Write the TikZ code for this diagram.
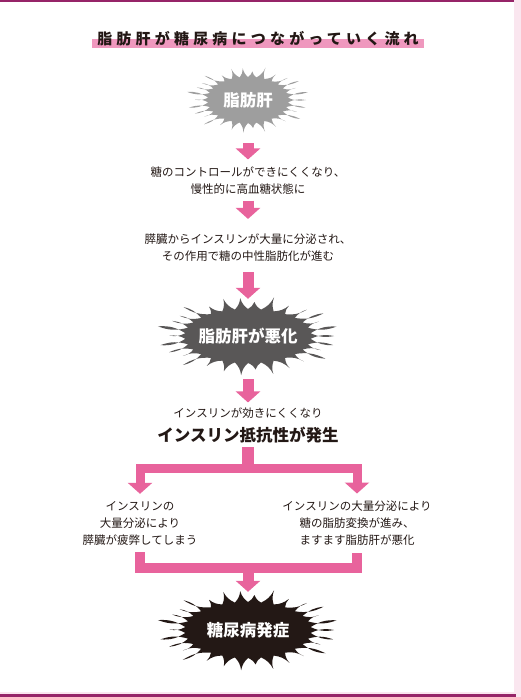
\documentclass[tikz,border=0pt]{standalone}
\usepackage{fontspec}
\newfontfamily\cjk{Noto Sans CJK JP}
\newfontfamily\cjktitle[LetterSpace=28]{Noto Sans CJK JP}
\usetikzlibrary{arrows.meta, positioning}
\definecolor{flowpink}{RGB}{232, 99, 156}
\definecolor{markpink}{RGB}{239, 152, 190}
\definecolor{rulemagenta}{RGB}{150, 36, 104}
\definecolor{edgepink}{RGB}{250, 230, 239}
\definecolor{burstlight}{RGB}{158, 158, 158}
\definecolor{burstdark}{RGB}{89, 87, 87}
\definecolor{burstink}{RGB}{35, 24, 21}
\definecolor{inktext}{RGB}{35, 24, 21}

\begin{document}
\begin{tikzpicture}[x=1pt, y=1pt,
            note/.style={font=\cjk\fontsize{11.5}{17}\selectfont, text=inktext, align=center, inner sep=0pt},
            burstlabel/.style={font=\cjk\bfseries\fontsize{16.5}{18}\selectfont, text=white, inner sep=0pt},
            flow/.style={draw=flowpink, line width=11pt, line join=miter, -{Triangle[length=11pt, width=24pt]}},
            bar/.style={draw=flowpink, line width=10pt, line join=miter},
            pics/burst/.style n args={5}{code={
                \fill[#5] (-6:#3 and #4)
                    \foreach \k in {0,...,29}{
                        to[bend left=18] ({\k*12+2*sin(\k*71)}:{#1*(1+0.09*sin(\k*137))} and {#2*(1+0.09*sin(\k*137))})
                        to[bend left=18] ({\k*12+6}:#3 and #4)
                    } -- cycle;
            }}
        ]
            \useasboundingbox (0,0) rectangle (521,-697);
            \fill[edgepink] (514,0) rectangle (521,-697);
            \fill[rulemagenta] (0,0) rectangle (514,-2);
            \fill[edgepink] (0,-692) rectangle (516,-694);
            \fill[rulemagenta] (0,-694) rectangle (516,-697);

            \fill[markpink] (92,-39) rectangle (424,-48);
            \node[font=\cjktitle\bfseries\fontsize{15}{15}\selectfont, text=inktext, inner sep=0pt] (title) at (258,-38.5) {脂肪肝が糖尿病につながっていく流れ};

            \pic at (248,-100) {burst={58}{31}{40}{23}{burstlight}};
            \node[burstlabel, minimum width=116pt, minimum height=62pt] (fatty) at (248,-100) {脂肪肝};

            \node[note] (lossctrl) at (248,-180.5) {糖のコントロールができにくくなり、\\慢性的に高血糖状態に};
            \node[note] (insulin) at (248,-248) {膵臓からインスリンが大量に分泌され、\\その作用で糖の中性脂肪化が進む};

            \pic at (248,-336) {burst={86}{37}{63}{27}{burstdark}};
            \node[burstlabel, minimum width=172pt, minimum height=74pt] (worse) at (248,-336) {脂肪肝が悪化};

            \node[note] (slow) at (248,-413) {インスリンが効きにくくなり};
            \node[note, font=\cjk\bfseries\fontsize{16.5}{18}\selectfont] (resist) at (248,-435) {インスリン抵抗性が発生};

            \node[note] (tired) at (140,-523) {インスリンの\\大量分泌により\\膵臓が疲弊してしまう};
            \node[note] (convert) at (357,-523) {インスリンの大量分泌により\\糖の脂肪変換が進み、\\ますます脂肪肝が悪化};

            \pic at (248,-630) {burst={86}{38}{63}{28}{burstink}};
            \node[burstlabel, minimum width=172pt, minimum height=76pt] (diabetes) at (248,-630) {糖尿病発症};

            \coordinate (split) at (248,-468.5);
            \coordinate (join) at (248,-568);

            \draw[flow, shorten <=12pt, shorten >=7pt] (fatty.south) -- (lossctrl.north);
            \draw[flow, shorten <=6pt, shorten >=15pt] (lossctrl.south) -- (insulin.north);
            \draw[flow, shorten <=10pt] (insulin.south) -- (worse.north);
            \draw[flow, shorten <=6pt, shorten >=5pt] (worse.south) -- (slow.north);
            \draw[bar, line width=12pt, shorten <=4pt] (resist.south) -- (split);
            \draw[flow, line width=9pt, shorten >=7pt] (split) -| (tired.north);
            \draw[flow, line width=9pt, shorten >=7pt] (split) -| (convert.north);
            \draw[bar, shorten <=7pt, shorten >=7pt] (tired.south) |- (join) -| (convert.south);
            \draw[flow] (join) -- (diabetes.north);
        \end{tikzpicture}
\end{document}
